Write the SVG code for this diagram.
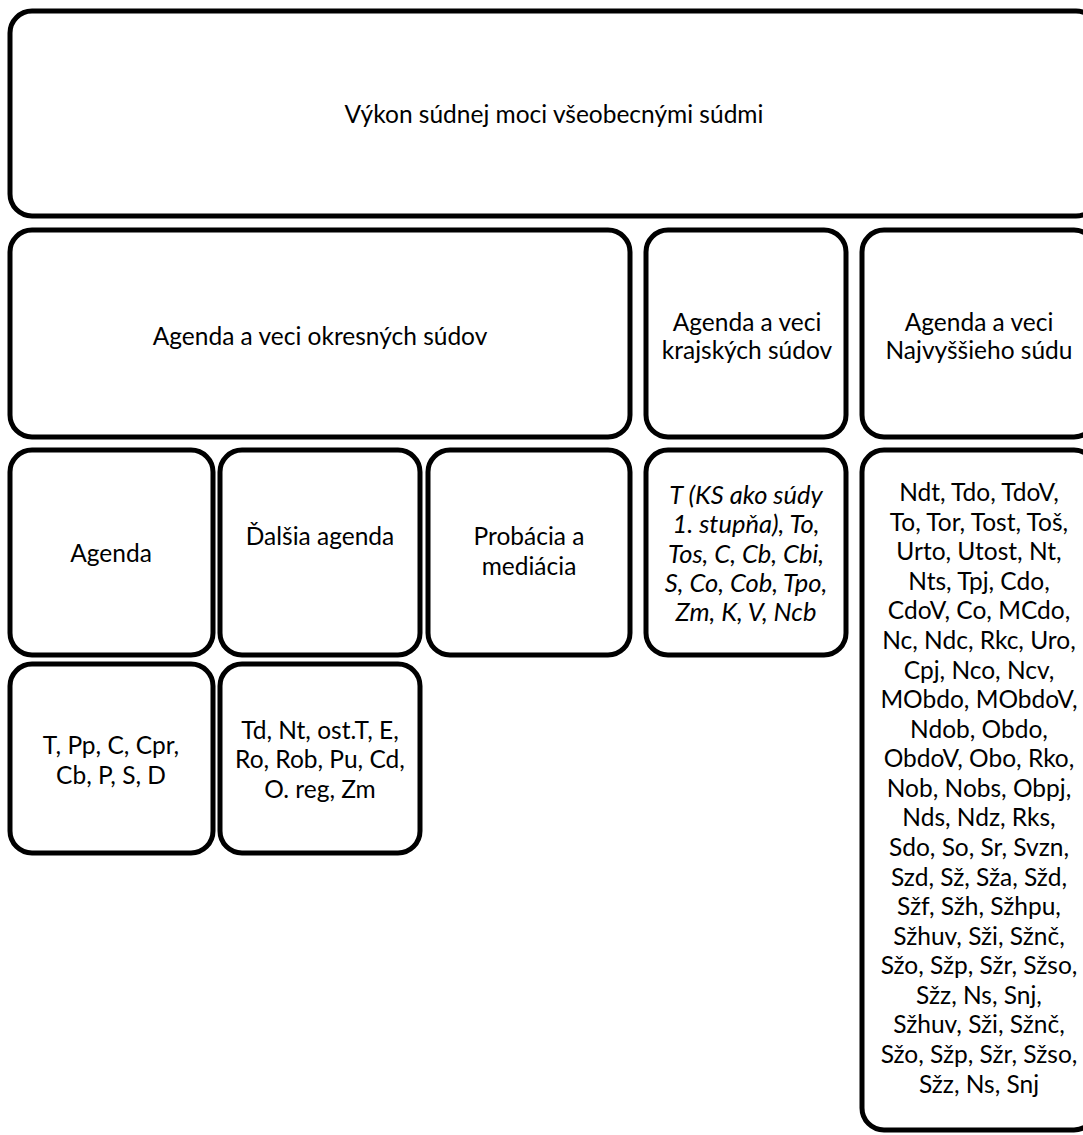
<svg xmlns="http://www.w3.org/2000/svg" width="1083" height="1135" viewBox="0 0 1083 1135">
<style>
.b{fill:#fff;stroke:#000;stroke-width:5}
text{font-family:Lato,"Open Sans",sans-serif;font-size:24.5px;fill:#000;text-anchor:middle;dominant-baseline:central}
.i{font-style:italic;font-size:25.5px}
</style>
<rect width="1083" height="1135" fill="#fff"/>
<g id="n-top"><rect class="b" x="10" y="11" width="1088" height="205" rx="22"/><text x="554" y="113">Výkon súdnej moci všeobecnými súdmi</text></g>
<g id="n-okresne"><rect class="b" x="10" y="230" width="620" height="207" rx="22"/><text x="320" y="335">Agenda a veci okresných súdov</text></g>
<g id="n-krajske"><rect class="b" x="646" y="230" width="200" height="207" rx="22"/><text x="747" y="321">Agenda a veci</text><text x="747" y="349">krajských súdov</text></g>
<g id="n-najvyssi"><rect class="b" x="862" y="230" width="234" height="207" rx="22"/><text x="979" y="321">Agenda a veci</text><text x="979" y="349">Najvyššieho súdu</text></g>
<g id="n-agenda"><rect class="b" x="10" y="450" width="203" height="205" rx="22"/><text x="111" y="552">Agenda</text></g>
<g id="n-dalsia"><rect class="b" x="220" y="450" width="200" height="205" rx="22"/><text x="320" y="535">Ďalšia agenda</text></g>
<g id="n-probacia"><rect class="b" x="428" y="450" width="202" height="205" rx="22"/><text x="529" y="535">Probácia a</text><text x="529" y="565">mediácia</text></g>
<g id="n-ks-list"><rect class="b" x="646" y="450" width="200" height="205" rx="22"/>
<text class="i" x="746" y="494">T (KS ako súdy</text><text class="i" x="746" y="523">1. stupňa), To,</text><text class="i" x="746" y="553">Tos, C, Cb, Cbi,</text><text class="i" x="746" y="582">S, Co, Cob, Tpo,</text><text class="i" x="746" y="611">Zm, K, V, Ncb</text></g>
<g id="n-ns-list"><rect class="b" x="862" y="450" width="234" height="680" rx="22"/>
<text x="979" y="491">Ndt, Tdo, TdoV,</text>
<text x="979" y="521">To, Tor, Tost, Toš,</text>
<text x="979" y="550">Urto, Utost, Nt,</text>
<text x="979" y="580">Nts, Tpj, Cdo,</text>
<text x="979" y="609">CdoV, Co, MCdo,</text>
<text x="979" y="639">Nc, Ndc, Rkc, Uro,</text>
<text x="979" y="669">Cpj, Nco, Ncv,</text>
<text x="979" y="698">MObdo, MObdoV,</text>
<text x="979" y="728">Ndob, Obdo,</text>
<text x="979" y="757">ObdoV, Obo, Rko,</text>
<text x="979" y="787">Nob, Nobs, Obpj,</text>
<text x="979" y="816">Nds, Ndz, Rks,</text>
<text x="979" y="846">Sdo, So, Sr, Svzn,</text>
<text x="979" y="876">Szd, Sž, Sža, Sžd,</text>
<text x="979" y="905">Sžf, Sžh, Sžhpu,</text>
<text x="979" y="935">Sžhuv, Sži, Sžnč,</text>
<text x="979" y="964">Sžo, Sžp, Sžr, Sžso,</text>
<text x="979" y="994">Sžz, Ns, Snj,</text>
<text x="979" y="1023">Sžhuv, Sži, Sžnč,</text>
<text x="979" y="1053">Sžo, Sžp, Sžr, Sžso,</text>
<text x="979" y="1083">Sžz, Ns, Snj</text></g>
<g id="n-agenda-list"><rect class="b" x="10" y="664" width="203" height="189" rx="22"/><text x="111" y="744">T, Pp, C, Cpr,</text><text x="111" y="774">Cb, P, S, D</text></g>
<g id="n-dalsia-list"><rect class="b" x="220" y="664" width="200" height="189" rx="22"/><text x="320" y="729">Td, Nt, ost.T, E,</text><text x="320" y="758">Ro, Rob, Pu, Cd,</text><text x="320" y="788">O. reg, Zm</text></g>
<g id="connectors"></g>
</svg>
